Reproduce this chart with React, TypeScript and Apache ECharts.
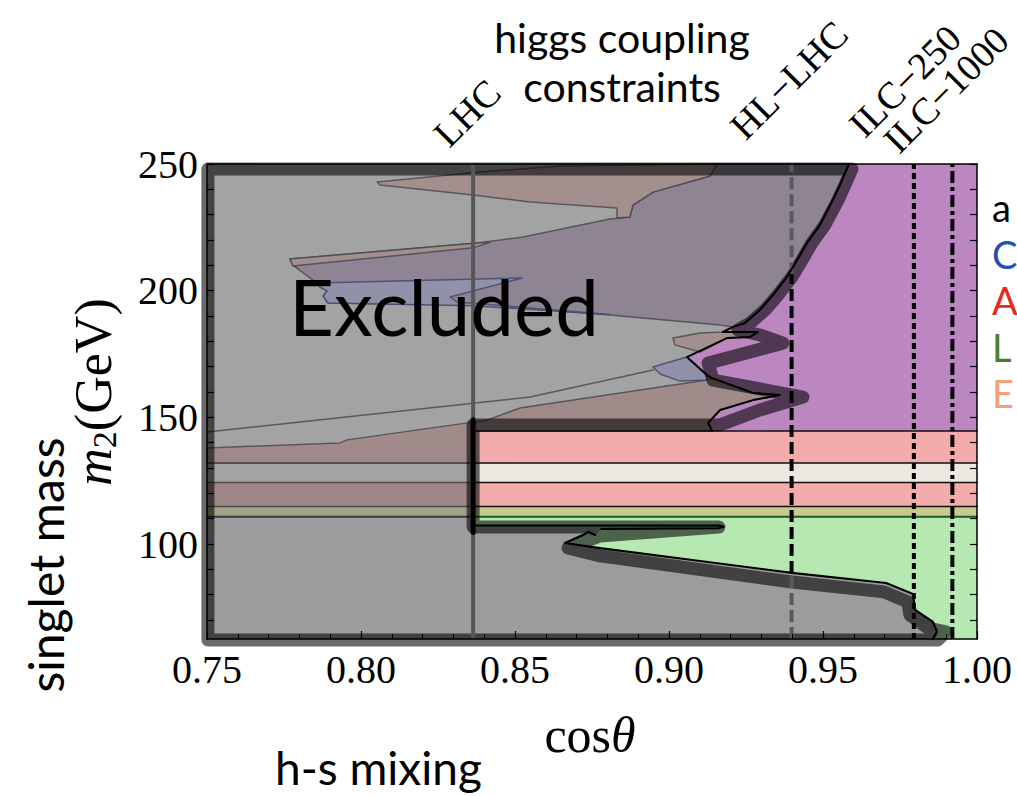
import { useEffect, useRef } from "react";
import * as echarts from "echarts";

type Pt = [number, number];

// Axis ranges and ticks
const cosRange: Pt = [0.75, 1.0];
const massRange: Pt = [62.5, 250];
const massLabels = [100, 150, 200, 250];
const massTicks = [70, 80, 90, 100, 110, 120, 130, 140, 150, 160, 170, 180, 190, 200, 210, 220, 230, 240, 250];

// Projected cosθ reach of Higgs-coupling measurements
const reachNames = ["LHC", "HL−LHC", "ILC−250", "ILC−1000"];
const reachCos = [0.8364, 0.9398, 0.9795, 0.992];
// m2 span where the HL-LHC line runs through allowed territory
const hlLhcAllowed = [88.6, 206.5];

// Horizontal bands in m2 (GeV)
const purpleBand = [144.6, 250];
const pinkUpperBand = [132.0, 144.6];
const whiteBand = [124.3, 132.0];
const pinkLowerBand = [114.8, 124.3];
const yellowBand = [110.8, 114.8];
const greenBand = [62.5, 110.8];

// Edge of the excluded region, upper part (cosθ, m2)
const upperEdge: Pt[] = [
  [0.9584, 250], [0.9555, 241.7], [0.9532, 235.8], [0.949, 225.9], [0.9448, 218.8],
  [0.9416, 212.1], [0.9383, 205.4], [0.9338, 198.3], [0.9295, 192.4], [0.9247, 187.2],
  [0.9208, 185.7], [0.9175, 183.7], [0.9289, 183.7], [0.9263, 181.7], [0.9188, 181.3],
  [0.9058, 173.8], [0.9123, 166.7], [0.914, 165.5], [0.9273, 159.6], [0.936, 158.8],
  [0.9273, 156.8], [0.9166, 152.9], [0.9127, 147.8], [0.914, 144.6],
];
// Thin slit under the Higgs-mass bands
const slitEdge: Pt[] = [
  [0.8364, 107.3], [0.9163, 107.3], [0.9178, 106.8], [0.916, 106.2], [0.878, 105.9],
];
// Edge of the excluded region, lower part
const lowerEdge: Pt[] = [
  [0.876, 103.6], [0.8737, 104.7], [0.8722, 103.6], [0.8662, 100.4], [0.8776, 98.4],
  [0.9101, 93.3], [0.9399, 88.6], [0.9705, 84.6], [0.9792, 80.3], [0.9799, 74.0],
  [0.9857, 69.2], [0.987, 65.3], [0.9857, 62.5],
];
// Dark halo drawn around the excluded region
const haloTrace: Pt[] = [
  [0.7503, 62.1], [0.7503, 248.0], [0.9594, 248.0], [0.9571, 241.7], [0.9549, 235.8],
  [0.9506, 225.9], [0.9464, 218.8], [0.9432, 212.1], [0.9399, 205.4], [0.9354, 198.3],
  [0.9312, 192.4], [0.9263, 187.2], [0.9224, 184.5], [0.9295, 182.5], [0.937, 179.3],
  [0.9127, 171.4], [0.9143, 164.7], [0.9435, 158.0], [0.9295, 152.9], [0.9166, 147.0],
  [0.8364, 147.0], [0.8364, 106.7], [0.9162, 106.7], [0.8776, 103.2], [0.8672, 98.4],
  [0.8776, 95.3], [0.9399, 85.0], [0.9698, 81.1], [0.9776, 77.1], [0.9782, 72.0],
  [0.9841, 66.8], [0.9899, 65.3], [0.9873, 62.1],
];

// Overlapping exclusion contours inside the excluded region
const pinkFringe: Pt[] = [
  [0.75, 137.9], [0.7932, 139.9], [0.7955, 141.1], [0.8409, 148.9], [0.8516, 153.7],
  [0.9123, 164.7], [0.914, 165.5], [0.9273, 159.6], [0.936, 158.8], [0.9273, 156.8],
  [0.9166, 152.9], [0.9127, 147.8], [0.914, 144.6], [0.8364, 144.6], [0.8364, 132.0], [0.75, 132.0],
];
const violetZone: Pt[] = [
  [0.9156, 250], [0.9584, 250], [0.9555, 241.7], [0.9532, 235.8], [0.949, 225.9],
  [0.9448, 218.8], [0.9416, 212.1], [0.9383, 205.4], [0.9338, 198.3], [0.9295, 192.4],
  [0.9247, 187.2], [0.9208, 185.7], [0.9166, 186.4], [0.8808, 190.4], [0.8516, 193.2],
  [0.8364, 194.3], [0.7893, 195.1], [0.7877, 197.9], [0.789, 199.9], [0.7867, 201.4],
  [0.7857, 203.0], [0.7779, 210.1], [0.7769, 212.5], [0.8377, 218.8], [0.8526, 221.2],
  [0.8808, 228.3], [0.8873, 229.1], [0.8883, 233.8], [0.8948, 238.9], [0.9133, 245.3],
];
const pinkWedgeTop: Pt[] = [
  [0.8052, 242.9], [0.8386, 246.8], [0.8646, 249.2], [0.9156, 250], [0.9133, 245.3],
  [0.8948, 238.9], [0.8883, 233.8], [0.8873, 229.1], [0.8831, 228.7], [0.8831, 232.6],
  [0.8549, 235.0], [0.8364, 237.8], [0.8062, 241.7],
];
const pinkWedgeMid: Pt[] = [
  [0.7769, 212.5], [0.8377, 218.8], [0.8419, 219.0], [0.8364, 216.9], [0.7779, 209.7],
];
const blueTongue: Pt[] = [
  [0.7857, 203.0], [0.8523, 205.0], [0.8289, 197.5], [0.8312, 195.5], [0.8808, 190.6],
  [0.8364, 194.0], [0.7893, 195.1], [0.7877, 197.9], [0.789, 199.9], [0.7867, 201.4],
];
const blueSpot: Pt[] = [
  [0.8948, 169.9], [0.9058, 173.8], [0.9123, 166.7], [0.9123, 164.7], [0.9036, 164.3], [0.8971, 167.1],
];
const pinkNub: Pt[] = [
  [0.9013, 181.3], [0.9101, 183.3], [0.9175, 183.7], [0.9289, 183.7], [0.9263, 181.7],
  [0.9188, 181.3], [0.9101, 175.8], [0.9019, 178.6],
];
const grayTrace: Pt[] = [[0.75, 144.2], [0.8549, 158.0], [0.8948, 168.7]];

// Legend entries (only their first letters fit inside the frame)
const legendLetters = ["a", "C", "A", "L", "E"];
const legendColors = ["#000000", "#1f4fb0", "#e8281a", "#4b7f2a", "#f5a07a"];

const serif = "'Liberation Serif', 'Times New Roman', serif";
const sans = "Lato, 'Open Sans', sans-serif";

const rect = (x0: number, x1: number, b: number[]): Pt[] => [
  [x0, b[0]], [x1, b[0]], [x1, b[1]], [x0, b[1]],
];

function area(points: Pt[], fill: string, stroke = "none", lineWidth = 0, z = 2) {
  return {
    type: "custom",
    coordinateSystem: "cartesian2d",
    silent: true,
    clip: false,
    z,
    data: [[0.8, 100]],
    renderItem: (_p: any, api: any) => ({
      type: "polygon",
      shape: { points: points.map((p) => api.coord(p)) },
      style: { fill, stroke, lineWidth, lineJoin: "round" },
    }),
  };
}

function trace(points: Pt[], stroke: string, lineWidth: number, z = 2) {
  return {
    type: "custom",
    coordinateSystem: "cartesian2d",
    silent: true,
    clip: false,
    z,
    data: [[0.8, 100]],
    renderItem: (_p: any, api: any) => ({
      type: "polyline",
      shape: { points: points.map((p) => api.coord(p)) },
      style: { fill: "none", stroke, lineWidth, lineJoin: "round", lineCap: "round" },
    }),
  };
}

function vline(x: number, from: number, to: number, color: string, width: number, dash: any, z = 4) {
  return {
    type: "line",
    silent: true,
    z,
    symbol: "none",
    data: [[x, from], [x, to]],
    lineStyle: { color, width, type: dash, cap: "butt" },
  };
}

function buildOption() {
  const lhc = reachCos[0];
  const [x0, x1] = cosRange;
  const excludedOutline: Pt[] = [[x0, 250], ...upperEdge, [lhc, 144.6], ...slitEdge, ...lowerEdge, [x0, 62.5]];
  const lowerExcluded: Pt[] = [[x0, 110.8], [lhc, 110.8], ...slitEdge, ...lowerEdge, [x0, 62.5]];
  const contour = "rgba(70,70,76,0.8)";
  const blueContour = "rgba(70,72,110,0.85)";

  const series: any[] = [
    area(rect(x0, x1, purpleBand), "#bc87c1"),
    area(rect(x0, x1, pinkUpperBand), "#f3abab"),
    area(rect(x0, x1, whiteBand), "#ebe7e1"),
    area(rect(x0, x1, pinkLowerBand), "#f3abab"),
    area(rect(x0, x1, yellowBand), "#c6ca8c"),
    area(rect(x0, x1, greenBand), "#b6e9b1"),
    area(excludedOutline, "#a3a3a3"),
    area(lowerExcluded, "#9c9c9c"),
    area(rect(x0, lhc, pinkLowerBand), "#9f8787"),
    area(rect(x0, lhc, yellowBand), "#a1a389"),
    area(pinkFringe, "#a08a8a", contour, 1.5),
    area(violetZone, "#8e8494", contour, 1.5),
    area(pinkWedgeTop, "#a48f8f", contour, 1.5),
    area(pinkWedgeMid, "#a48f8f", contour, 1.5),
    area(blueTongue, "#9192aa", blueContour, 1.5),
    area(blueSpot, "#9192aa", blueContour, 1.5),
    area(pinkNub, "#a48f8f", contour, 1.5),
    trace(grayTrace, contour, 1.5),
    // band separators
    trace([[lhc, 144.6], [x1, 144.6]], "#111", 1.5),
    trace([[x0, 132.0], [lhc, 132.0]], "#4a4a4a", 1.5),
    trace([[lhc, 132.0], [x1, 132.0]], "#111", 1.5),
    trace([[x0, 124.3], [lhc, 124.3]], "#4a4a4a", 1.5),
    trace([[lhc, 124.3], [x1, 124.3]], "#111", 1.5),
    trace([[x0, 114.8], [lhc, 114.8]], "#4a4a4a", 1.5),
    trace([[lhc, 114.8], [x1, 114.8]], "#111", 1.5),
    trace([[x0, 110.8], [lhc, 110.8]], "#3a3a3a", 2),
    trace([[lhc, 110.8], [x1, 110.8]], "#1d5c1d", 2),
    // halo around the excluded region
    area(haloTrace, "none", "rgba(0,0,0,0.58)", 13, 3),
    // coupling reach lines
    vline(lhc, 62.5, 250, "#575757", 4, "solid"),
    vline(reachCos[1], hlLhcAllowed[1], 250, "#5a5a5a", 4, [12, 5]),
    vline(reachCos[1], hlLhcAllowed[0], hlLhcAllowed[1], "#000", 4, [12, 5]),
    vline(reachCos[1], 62.5, hlLhcAllowed[0], "#5a5a5a", 4, [12, 5]),
    vline(reachCos[2], 62.5, 250, "#000", 4, [6, 4]),
    vline(reachCos[3], 62.5, 250, "#000", 4, [12, 4, 4, 4]),
    // black edges of the excluded region
    trace(upperEdge, "#000", 2, 5),
    trace(slitEdge, "#000", 2, 5),
    trace(lowerEdge, "#000", 2.2, 5),
    trace([[lhc, 104.5], [lhc, 149]], "#000", 5, 5),
  ];

  const frameLine = { show: true, onZero: false, lineStyle: { color: "#000", width: 1.5 } };
  const tickLabel = { fontFamily: serif, fontSize: 40, color: "#000" };

  const graphic: any[] = [
    { type: "text", x: 289, y: 306, z: 30, style: { text: "Excluded", fontFamily: sans, fontSize: 78, fill: "#000", verticalAlign: "middle" } },
    { type: "text", x: 622, y: 37, z: 30, style: { text: "higgs coupling", fontFamily: sans, fontSize: 41, fill: "#000", align: "center", verticalAlign: "middle" } },
    { type: "text", x: 622, y: 86, z: 30, style: { text: "constraints", fontFamily: sans, fontSize: 41, fill: "#000", align: "center", verticalAlign: "middle" } },
    { type: "text", x: 275, y: 767, z: 30, style: { text: "h-s mixing", fontFamily: sans, fontSize: 46, fill: "#000", verticalAlign: "middle" } },
    {
      type: "text", x: 590, y: 735, z: 30,
      style: {
        text: "{n|cos}{i|θ}", align: "center", verticalAlign: "middle",
        rich: {
          n: { fontFamily: serif, fontSize: 50, fill: "#000" },
          i: { fontFamily: serif, fontSize: 50, fontStyle: "italic", fill: "#000" },
        },
      },
    },
    { type: "text", x: 45, y: 565, rotation: Math.PI / 2, z: 30, style: { text: "singlet mass", fontFamily: sans, fontSize: 48, fill: "#000", align: "center", verticalAlign: "middle" } },
    {
      type: "text", x: 93, y: 392, rotation: Math.PI / 2, z: 30,
      style: {
        text: "{m|m}{s|2}{u|(GeV)}", align: "center", verticalAlign: "middle",
        rich: {
          m: { fontFamily: serif, fontSize: 52, fontStyle: "italic", fill: "#000", lineHeight: 56 },
          s: { fontFamily: serif, fontSize: 34, fill: "#000", lineHeight: 56, verticalAlign: "bottom" },
          u: { fontFamily: serif, fontSize: 52, fill: "#000", lineHeight: 56 },
        },
      },
    },
  ];

  const reachLabelPos: Pt[] = [[467, 113], [789, 80], [905, 81], [946, 90]];
  reachNames.forEach((name, i) => {
    graphic.push({
      type: "text", x: reachLabelPos[i][0], y: reachLabelPos[i][1], rotation: Math.PI / 4, z: 30,
      style: { text: name, fontFamily: serif, fontSize: 38, fill: "#000", align: "center", verticalAlign: "middle" },
    });
  });
  legendLetters.forEach((t, i) => {
    graphic.push({
      type: "text", x: 992, y: 207 + i * 46.5, z: 30,
      style: { text: t, fontFamily: sans, fontSize: 38, fill: legendColors[i], verticalAlign: "middle" },
    });
  });

  return {
    animation: false,
    backgroundColor: "#fff",
    grid: { left: 207, top: 164, width: 770, height: 475, containLabel: false, outerBoundsMode: "none" },
    xAxis: [
      {
        type: "value", min: cosRange[0], max: cosRange[1], interval: 0.05, position: "bottom", z: 20,
        axisLine: frameLine,
        axisTick: { show: true, inside: true, length: 8, lineStyle: { color: "#000", width: 1.2 } },
        minorTick: { show: true, splitNumber: 5, length: 5, lineStyle: { color: "#000", width: 1 } },
        axisLabel: { ...tickLabel, margin: 10, formatter: (v: number) => v.toFixed(2) },
        splitLine: { show: false },
      },
      {
        type: "value", min: cosRange[0], max: cosRange[1], position: "top", z: 20,
        axisLine: frameLine, axisTick: { show: false }, axisLabel: { show: false }, splitLine: { show: false },
      },
    ],
    yAxis: [
      {
        type: "value", min: massRange[0], max: massRange[1], position: "left", z: 20,
        axisLine: frameLine,
        axisTick: { show: true, inside: true, length: 7, customValues: massTicks, lineStyle: { color: "#000", width: 1.2 } },
        axisLabel: { ...tickLabel, margin: 9, customValues: massLabels },
        splitLine: { show: false },
      },
      {
        type: "value", min: massRange[0], max: massRange[1], position: "right", z: 20,
        axisLine: frameLine,
        axisTick: { show: true, inside: true, length: 7, customValues: massTicks, lineStyle: { color: "#000", width: 1.2 } },
        axisLabel: { show: false },
        splitLine: { show: false },
      },
    ],
    series,
    graphic,
  };
}

export default function App() {
  const ref = useRef<HTMLDivElement>(null);
  useEffect(() => {
    const chart = echarts.init(ref.current!, null, { renderer: "svg" });
    chart.setOption(buildOption() as any);
    return () => chart.dispose();
  }, []);
  return (
    <div
      ref={ref}
      style={{ position: "fixed", left: 0, top: 0, width: 1017, height: 796, background: "#fff" }}
    />
  );
}
